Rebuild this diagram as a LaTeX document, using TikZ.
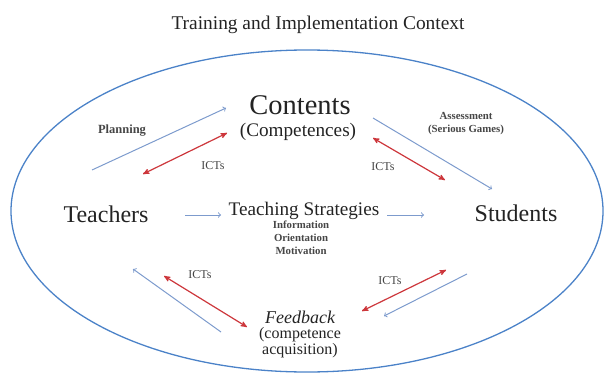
\documentclass[tikz,border=0pt]{standalone}
\usepackage{fontspec}
\setmainfont{Liberation Serif}
\usetikzlibrary{arrows,positioning}
\definecolor{ctxblue}{RGB}{75,130,200}
\definecolor{flowblue}{RGB}{125,155,205}
\definecolor{ictred}{RGB}{205,55,60}
\definecolor{txtgray}{RGB}{35,35,35}
\definecolor{smallgray}{RGB}{70,70,70}
\tikzset{%
	label/.style    = {inner sep=0pt, text=txtgray, align=center},
	title/.style    = {label, font=\fontsize{19.4}{22}\selectfont},
	actor/.style    = {label, font=\fontsize{24}{26}\selectfont},
	topic/.style    = {label, font=\fontsize{28.5}{30}\selectfont},
	sub/.style      = {label, font=\fontsize{19.2}{21}\selectfont},
	fb/.style       = {label, font=\fontsize{16}{16}\selectfont},
	small/.style    = {label, text=smallgray, font=\bfseries\fontsize{12.5}{14}\selectfont},
	tiny/.style     = {label, text=smallgray, font=\bfseries\fontsize{10.8}{13}\selectfont},
	ictlab/.style   = {label, text=smallgray, font=\fontsize{12}{14}\selectfont},
	context/.style  = {ctxblue, line width=1.3pt},
	flow/.style     = {flowblue, line width=1pt, ->},
	ict/.style      = {ictred, line width=1.2pt, stealth'-stealth'},
}
\begin{document}
\begin{tikzpicture}[x=1pt,y=-1pt]
	\useasboundingbox (0,0) rectangle (604,377);
	\draw[context] (307,211) ellipse [x radius=296pt, y radius=161pt];

	\node [title] (ctx) at (318,25) {Training and Implementation Context};
	\node [topic] (contents) at (300,105) {Contents};
	\node [sub] (competences) at (298,132) {(Competences)};
	\node [actor] (teachers) at (106,214) {Teachers};
	\node [actor] (students) at (516,213) {Students};
	\node [sub] (strategies) at (304,211) {Teaching Strategies};
	\node [tiny] (modes) at (301,238) {Information\\Orientation\\Motivation};
	\node [fb] (feedback) at (300,317) {\itshape\fontsize{18}{18}\selectfont Feedback};
	\node [fb] (acquisition) at (300,343) {(competence\\acquisition)};
	\node [small] (planning) at (122,131) {Planning};
	\node [tiny] (assessment) at (466,124) {Assessment\\(Serious Games)};
	\node [ictlab] (ict1) at (213,166) {ICTs};
	\node [ictlab] (ict2) at (383,167) {ICTs};
	\node [ictlab] (ict3) at (200,275) {ICTs};
	\node [ictlab] (ict4) at (390,281) {ICTs};

	% arrow ends
	\coordinate (plan-a) at (92,170);   \coordinate (plan-b) at (226,108);
	\coordinate (ictl-a) at (143,174);  \coordinate (ictl-b) at (227,133);
	\coordinate (asse-a) at (373,118);  \coordinate (asse-b) at (492,189);
	\coordinate (ictr-a) at (373,138);  \coordinate (ictr-b) at (445,180);
	\coordinate (teach-a) at (185,215); \coordinate (teach-b) at (221,215);
	\coordinate (stud-a) at (387,215);  \coordinate (stud-b) at (424,215);
	\coordinate (back-a) at (221,332);  \coordinate (back-b) at (133,269);
	\coordinate (ictbl-a) at (164,276); \coordinate (ictbl-b) at (247,327);
	\coordinate (ictbr-a) at (446,270); \coordinate (ictbr-b) at (362,311);
	\coordinate (eval-a) at (467,274);  \coordinate (eval-b) at (384,316);

	\draw[flow] (plan-a) -- (plan-b);
	\draw[ict] (ictl-a) -- (ictl-b);
	\draw[flow] (asse-a) -- (asse-b);
	\draw[ict] (ictr-a) -- (ictr-b);
	\draw[flow] (teach-a) -- (teach-b);
	\draw[flow] (stud-a) -- (stud-b);
	\draw[flow] (back-a) -- (back-b);
	\draw[ict] (ictbl-a) -- (ictbl-b);
	\draw[ict] (ictbr-a) -- (ictbr-b);
	\draw[flow] (eval-a) -- (eval-b);
\end{tikzpicture}
\end{document}
